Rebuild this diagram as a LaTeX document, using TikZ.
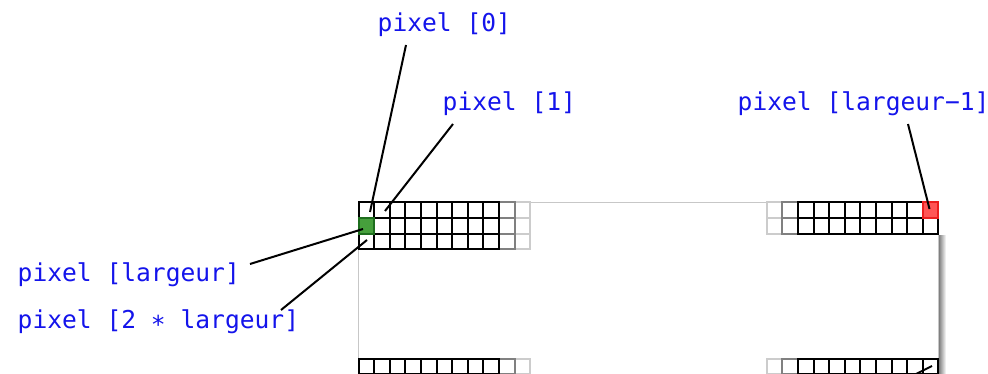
\documentclass[tikz,border=0pt]{standalone}
\usepackage{fontspec}
\newfontfamily\labfont{DejaVu Sans Mono}
\definecolor{labblue}{RGB}{20,20,235}
\definecolor{cellgreen}{RGB}{70,160,60}
\definecolor{cellgreenedge}{RGB}{30,110,30}
\definecolor{cellred}{RGB}{255,85,85}
\definecolor{celledgered}{RGB}{235,30,30}
\tikzset{
  lab/.style={anchor=base west, inner sep=0pt, text=labblue, font=\labfont\fontsize{24.6}{28}\selectfont},
  leader/.style={draw=black, line width=2pt},
  blackcell/.style={draw=black, line width=2pt, fill=white},
  graycell/.style={draw=black!50, line width=2pt, fill=white},
  lightcell/.style={draw=black!20, line width=2pt, fill=white},
  frame/.style={draw=black!22, line width=1.6pt}
}
\begin{document}
\begin{tikzpicture}[x=1pt,y=-1pt]
\useasboundingbox (0,0) rectangle (988,374);
\clip (0,0) rectangle (988,374);
\def\s{15.6}
% shadow and frame
\shade[left color=black!55, right color=white] (938.3,236) rectangle (946,400);
\path[frame, fill=white] (358.5,202.5) rectangle (938.3,400);
% top-left grid
\foreach \r in {0,1,2}{
  \path[lightcell] ({358.5+10*\s},{202.5+\r*\s}) rectangle ++(\s,\s);
  \path[graycell] ({358.5+9*\s},{202.5+\r*\s}) rectangle ++(\s,\s);
  \foreach \c in {0,...,8}{
    \path[blackcell] ({358.5+\c*\s},{202.5+\r*\s}) rectangle ++(\s,\s);
  }
}
% bottom-left row
\path[lightcell] ({358.5+10*\s},358.5) rectangle ++(\s,\s);
\path[graycell] ({358.5+9*\s},358.5) rectangle ++(\s,\s);
\foreach \c in {0,...,8}{
  \path[blackcell] ({358.5+\c*\s},358.5) rectangle ++(\s,\s);
}
% top-right grid
\foreach \r in {0,1}{
  \path[lightcell] ({938.3-11*\s},{202.5+\r*\s}) rectangle ++(\s,\s);
  \path[graycell] ({938.3-10*\s},{202.5+\r*\s}) rectangle ++(\s,\s);
  \foreach \c in {1,...,9}{
    \path[blackcell] ({938.3-\c*\s},{202.5+\r*\s}) rectangle ++(\s,\s);
  }
}
% bottom-right row
\path[lightcell] ({938.3-11*\s},358.5) rectangle ++(\s,\s);
\path[graycell] ({938.3-10*\s},358.5) rectangle ++(\s,\s);
\foreach \c in {1,...,9}{
  \path[blackcell] ({938.3-\c*\s},358.5) rectangle ++(\s,\s);
}
% coloured cells
\path[draw=cellgreenedge, fill=cellgreen, line width=2pt] (358.5,{202.5+\s}) rectangle ++(\s,\s);
\path[draw=celledgered, fill=cellred, line width=2pt] ({938.3-\s},202.5) rectangle ++(\s,\s);
% labels
\node[lab] (l0) at (377.5,32) {pixel [0]};
\node[lab] (l1) at (442.5,111) {pixel [1]};
\node[lab] (lw1) at (737.5,111) {pixel [largeur−1]};
\node[lab] (lw) at (17.5,281.5) {pixel [largeur]};
\node[lab] (l2w) at (17.5,328) {pixel [2 ∗ largeur]};
% leader endpoints
\coordinate (s0) at (406,45);
\coordinate (e0) at (370,212);
\coordinate (s1) at (453,124);
\coordinate (e1) at (385,211);
\coordinate (sw1) at (908,124);
\coordinate (ew1) at (929.5,209);
\coordinate (sw) at (250,264);
\coordinate (ew) at (363,229);
\coordinate (s2w) at (281,310);
\coordinate (e2w) at (367,240);
\coordinate (sb) at (890,387);
\coordinate (eb) at (932,366);
\draw[leader] (s0) -- (e0);
\draw[leader] (s1) -- (e1);
\draw[leader] (sw1) -- (ew1);
\draw[leader] (sw) -- (ew);
\draw[leader] (s2w) -- (e2w);
\draw[leader] (sb) -- (eb);
\end{tikzpicture}
\end{document}
